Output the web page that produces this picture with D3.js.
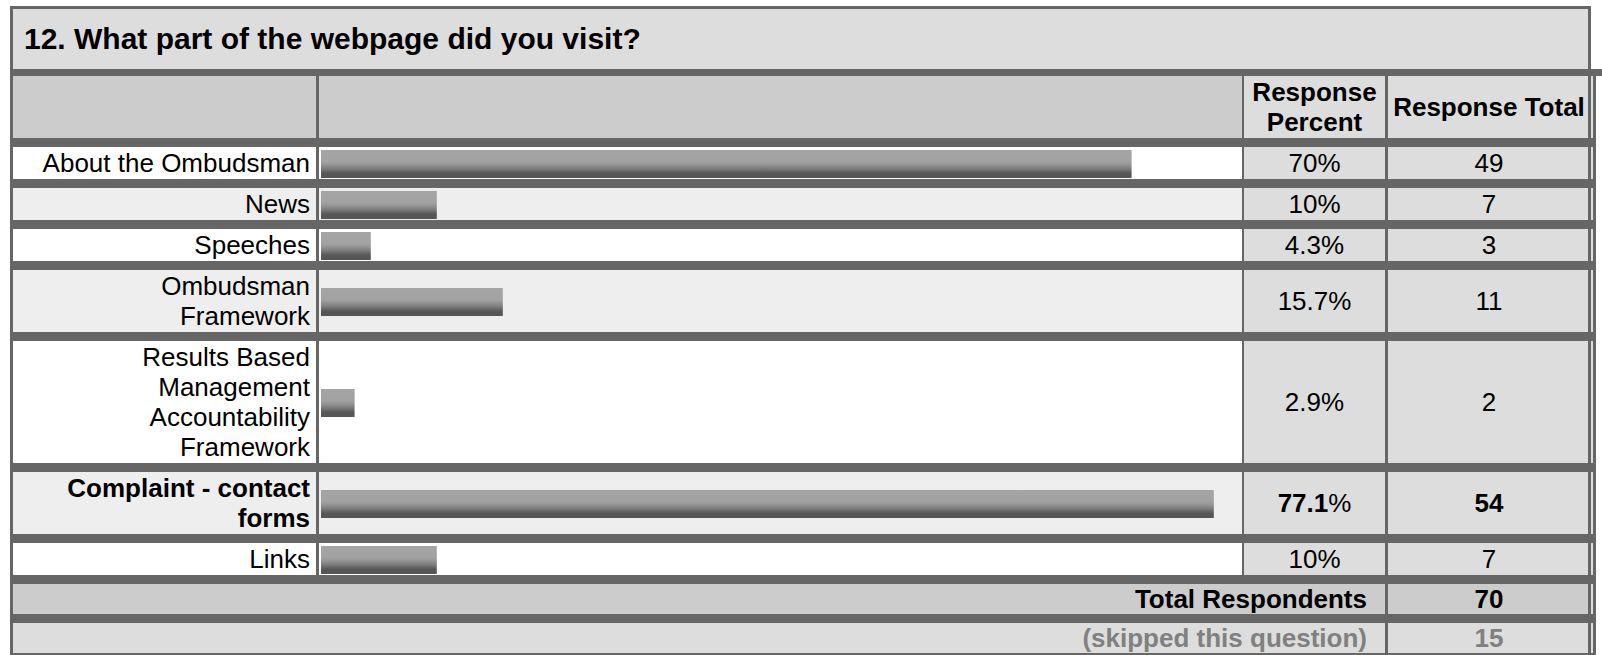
<!DOCTYPE html>
<html>
<head>
<meta charset="utf-8">
<script src="https://cdn.jsdelivr.net/npm/d3@7"></script>
<style>
  body { margin: 0; background: #fff; }
  text { font-family: "Liberation Sans", Arial, sans-serif; }
</style>
</head>
<body>
<div id="chart"></div>
<script>
// survey data
const question = "12. What part of the webpage did you visit?";
const answers = ["About the Ombudsman", "News", "Speeches", "Ombudsman Framework",
  "Results Based Management Accountability Framework", "Complaint - contact forms", "Links"];
const percents = [70, 10, 4.3, 15.7, 2.9, 77.1, 10];
const counts = [49, 7, 3, 11, 2, 54, 7];
const headers = ["Response Percent", "Response Total"];
const highlighted = ["Complaint - contact forms"];
const totalRespondents = 70;
const skipped = 15;

const width = 1602, height = 655
const fontSize = 26, lineH = 30
const band = 9
const col = {left: 13, labelEnd: 316, barStart: 319, barEnd: 1242,
  pctStart: 1244, pctEnd: 1385, totStart: 1388, totEnd: 1588}
const dark = "#666"

const x = d3.scaleLinear()
  .domain([0, 100])
  .range([col.barStart + 2, col.barStart + 2 + 1158])

const svg = d3.select("#chart").append("svg")
  .attr("width", width)
  .attr("height", height)

const grad = svg.append("defs").append("linearGradient")
  .attr("id", "barGrad")
  .attr("x1", 0).attr("y1", 0).attr("x2", 0).attr("y2", 1)
const stops = [[0, "#a5a5a5"], [0.4, "#a2a2a2"], [0.5, "#989898"], [0.6, "#888"],
  [0.7, "#757575"], [0.78, "#616161"], [0.85, "#565656"], [1, "#555"]]
stops.forEach(s => grad.append("stop").attr("offset", s[0]).attr("stop-color", s[1]))

// measuring helper for word wrap
const meas = svg.append("text").attr("font-size", fontSize).attr("visibility", "hidden")
function wrap(str, maxW, bold) {
  meas.attr("font-weight", bold ? "bold" : "normal")
  const words = str.split(" ")
  const lines = []
  let cur = ""
  words.forEach(w => {
    const test = cur ? cur + " " + w : w
    meas.text(test)
    if (cur && meas.node().getComputedTextLength() > maxW) {
      lines.push(cur)
      cur = w
    } else cur = test
  })
  lines.push(cur)
  return lines
}

function multiText(g, lines, xPos, yTop, h, anchor, bold, fill) {
  const t = g.append("text")
    .attr("font-size", fontSize)
    .attr("font-weight", bold ? "bold" : "normal")
    .attr("fill", fill || "#000")
    .attr("text-anchor", anchor)
  const y0 = yTop + h / 2 - (lines.length - 1) * lineH / 2 + 9
  lines.forEach((l, i) => t.append("tspan").attr("x", xPos).attr("y", y0 + i * lineH).text(l))
  return t
}

// title box
svg.append("rect").attr("x", 10).attr("y", 6).attr("width", 1581).attr("height", 66).attr("fill", dark)
svg.append("rect").attr("x", 13).attr("y", 9).attr("width", 1575).attr("height", 60).attr("fill", "#ddd")
svg.append("text")
  .attr("x", 24).attr("y", 49)
  .attr("font-size", 30).attr("font-weight", "bold")
  .text(question)

// table background (borders)
svg.append("rect").attr("x", 10).attr("y", 69).attr("width", 1586).attr("height", height - 69).attr("fill", dark)

const g = svg.append("g")

function rowFrame(top, h) {
  g.append("rect").attr("x", 1591).attr("y", top).attr("width", 2).attr("height", h).attr("fill", "#ddd")
  g.append("rect").attr("x", 1596).attr("y", top).attr("width", width - 1596).attr("height", h).attr("fill", "#fff")
}

// header row
let yPos = 76
const headH = 62
rowFrame(yPos, headH)
g.append("rect").attr("x", col.left).attr("y", yPos).attr("width", col.labelEnd - col.left).attr("height", headH).attr("fill", "#ccc")
g.append("rect").attr("x", col.barStart).attr("y", yPos).attr("width", col.barEnd - col.barStart).attr("height", headH).attr("fill", "#ccc")
g.append("rect").attr("x", col.pctStart).attr("y", yPos).attr("width", col.pctEnd - col.pctStart).attr("height", headH).attr("fill", "#ddd")
g.append("rect").attr("x", col.totStart).attr("y", yPos).attr("width", col.totEnd - col.totStart).attr("height", headH).attr("fill", "#ddd")
multiText(g, wrap(headers[0], col.pctEnd - col.pctStart - 6, true), (col.pctStart + col.pctEnd) / 2, yPos, headH, "middle", true)
multiText(g, wrap(headers[1], col.totEnd - col.totStart - 2, true), (col.totStart + col.totEnd) / 2 + 1, yPos, headH, "middle", true)
yPos += headH + band

// answer rows
answers.forEach((a, i) => {
  const bold = highlighted.includes(a)
  const lines = wrap(a, 280, bold)
  const h = lines.length * lineH + 2
  const bg = i % 2 === 0 ? "#fff" : "#eee"
  rowFrame(yPos, h)
  g.append("rect").attr("x", col.left).attr("y", yPos).attr("width", col.labelEnd - col.left).attr("height", h).attr("fill", bg)
  g.append("rect").attr("x", col.barStart).attr("y", yPos).attr("width", col.barEnd - col.barStart).attr("height", h).attr("fill", bg)
  g.append("rect").attr("x", col.pctStart).attr("y", yPos).attr("width", col.pctEnd - col.pctStart).attr("height", h).attr("fill", "#ddd")
  g.append("rect").attr("x", col.totStart).attr("y", yPos).attr("width", col.totEnd - col.totStart).attr("height", h).attr("fill", "#ddd")

  multiText(g, lines, col.labelEnd - 6, yPos, h, "end", bold)

  g.append("rect")
    .attr("class", "bar")
    .attr("x", x(0))
    .attr("y", yPos + (h - 28) / 2 + 1)
    .attr("width", x(percents[i]) - x(0))
    .attr("height", 28)
    .attr("fill", "url(#barGrad)")

  const pt = g.append("text")
    .attr("x", (col.pctStart + col.pctEnd) / 2)
    .attr("y", yPos + h / 2 + 9)
    .attr("font-size", fontSize)
    .attr("text-anchor", "middle")
  pt.append("tspan").attr("font-weight", bold ? "bold" : "normal").text(percents[i])
  pt.append("tspan").text("%")

  g.append("text")
    .attr("x", (col.totStart + col.totEnd) / 2 + 1)
    .attr("y", yPos + h / 2 + 9)
    .attr("font-size", fontSize)
    .attr("font-weight", bold ? "bold" : "normal")
    .attr("text-anchor", "middle")
    .text(counts[i])

  yPos += h + band
})

// summary rows
const summary = [
  {label: "Total Respondents", value: totalRespondents, bg: "#ccc", fill: "#000"},
  {label: "(skipped this question)", value: skipped, bg: "#ddd", fill: "#808080"}
]
summary.forEach(s => {
  const h = 30
  rowFrame(yPos, h)
  g.append("rect").attr("x", col.left).attr("y", yPos).attr("width", col.pctEnd - col.left).attr("height", h).attr("fill", s.bg)
  g.append("rect").attr("x", col.totStart).attr("y", yPos).attr("width", col.totEnd - col.totStart).attr("height", h).attr("fill", s.bg)
  g.append("text")
    .attr("x", 1367).attr("y", yPos + h / 2 + 9)
    .attr("font-size", fontSize).attr("font-weight", "bold")
    .attr("text-anchor", "end").attr("fill", s.fill)
    .text(s.label)
  g.append("text")
    .attr("x", (col.totStart + col.totEnd) / 2 + 1).attr("y", yPos + h / 2 + 9)
    .attr("font-size", fontSize).attr("font-weight", "bold")
    .attr("text-anchor", "middle").attr("fill", s.fill)
    .text(s.value)
  yPos += h + band
})

// bands reach the right edge
svg.append("rect").attr("x", 1596).attr("y", 69).attr("width", width - 1596).attr("height", 7).attr("fill", dark)
meas.remove()
</script>
</body>
</html>
